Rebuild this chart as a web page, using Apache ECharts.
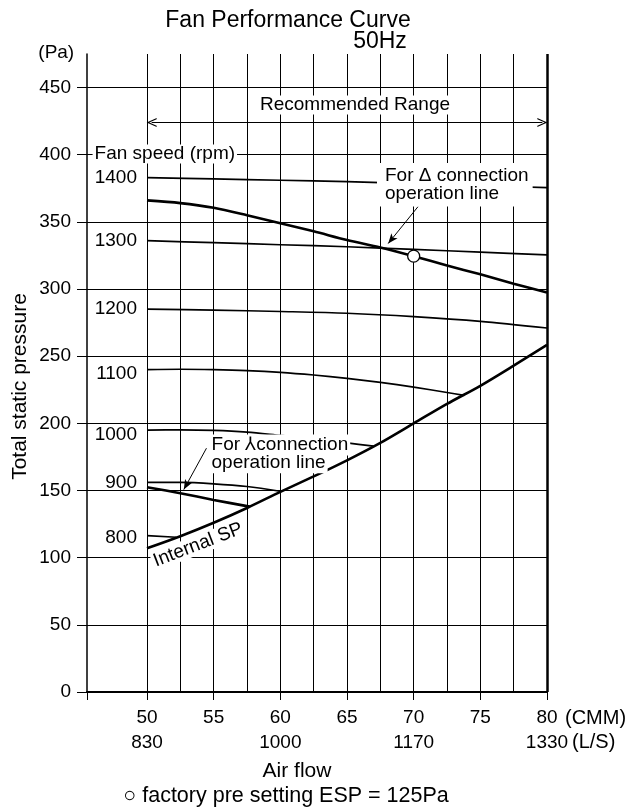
<!DOCTYPE html>
<html><head><meta charset="utf-8">
<script src="https://cdn.jsdelivr.net/npm/echarts@6/dist/echarts.min.js"></script>
<style>html,body{margin:0;padding:0;background:#fff}#c{width:637px;height:807px}</style>
</head><body><div id="c"></div>
<script>
const FONT = '"Liberation Sans", Arial, Helvetica, sans-serif';

// Axis ticks
const cmmTicks = [50, 55, 60, 65, 70, 75, 80];
const lsTicks = [50, 60, 70, 80];
const lsLabels = ['830', '1000', '1170', '1330'];
const xGrid = [50, 52.5, 55, 57.5, 60, 62.5, 65, 67.5, 70, 72.5, 75, 77.5];
const xTickMarks = [45.5, 50, 55, 60, 65, 70, 75, 80];
const pressureTicks = [0, 50, 100, 150, 200, 250, 300, 350, 400, 450];

// Fan speed curves: [air flow (CMM), total static pressure (Pa)]
const speedNames = ['1400', '1300', '1200', '1100', '1000', '900', '800'];
const speed1400 = [[50,383],[55,382],[60,381],[65,380],[70,378.5],[75,377],[80,375.5]];
const speed1300 = [[50,336],[55,334.5],[60,333],[65,331.5],[70,329.5],[75,327.5],[80,325.5]];
const speed1200 = [[50,285],[55,284.3],[60,283.3],[65,282],[70,279.5],[75,276],[80,271]];
const speed1100 = [[50,240],[52.5,240.3],[55,240],[57.5,239.3],[60,238],[62.5,236],[65,233.5],[67.5,230.5],[70,227],[72.5,223],[73.8,220.8]];
const speed1000 = [[50,195],[52.5,195.2],[55,194.8],[57.5,193.5],[60,191],[62.5,188.5],[65,185.5],[67,183]];
const speed900  = [[50,156],[52.5,156],[55,155],[57.5,153],[60.1,149.3]];
const speed800  = [[50,116.4],[52.2,115.2]];
// Operation lines and internal SP
const deltaLine = [[50,366],[52.5,364],[55,360.5],[57.5,355],[60,349],[62.5,343],[65,336.5],[67.5,331],[70,324.5],[72.5,317.5],[75,311],[77.5,304],[80,297.5]];
const starLine = [[50,152.5],[52.5,148],[55,143],[57.7,138]];
const internalSP = [[50,107],[52.5,116],[55,126],[57.5,137],[60,149],[62.5,160.5],[65,172.5],[67.5,185.5],[70,200],[72.5,214.5],[75,228],[77.5,243],[80,258.5]];
const factorySetting = [[70, 324.5]];

const speedSets = [speed1400, speed1300, speed1200, speed1100, speed1000, speed900, speed800];
const speedLabelNudge = [0, 0, 0, 4, 5, 0, 2];

function curve(data, width) {
  return { type: 'line', data: data, smooth: 0.3, symbol: 'none',
    lineStyle: { color: '#000', width: width }, z: 3, silent: true };
}

const chart = echarts.init(document.getElementById('c'), null, { renderer: 'canvas' });
const txt = { color: '#000', fontFamily: FONT, fontSize: 19 };

const chevron = 'path://M0,12 L6,0 L12,12 L10.4,12 L6,3.2 L1.6,12 Z';

const series = [];
// vertical grid lines
series.push({ type: 'line', data: [], silent: true,
  markLine: { z: 1, silent: true, symbol: 'none', animation: false, label: { show: false },
    lineStyle: { color: '#000', width: 1, type: 'solid' },
    data: xGrid.map(v => ({ xAxis: v })).concat([{ xAxis: 80, lineStyle: { width: 2.5, color: '#000', type: 'solid' } }]) } });
speedSets.forEach(d => series.push(curve(d, 1.7)));
series.push(curve(deltaLine, 2.6));
series.push(curve(starLine, 2.6));
series.push(curve(internalSP, 2.6));
// rpm labels at curve starts
series.push({ type: 'scatter', symbolSize: 0, silent: true, z: 6, itemStyle: { opacity: 1 },
  label: Object.assign({ show: true, position: 'left', distance: 10 }, txt),
  data: speedNames.map((n, i) => ({ value: speedSets[i][0], label: { formatter: n, offset: [0, speedLabelNudge[i]] } })) });
// arrows
series.push({ type: 'line', data: [], silent: true,
  markLine: { z: 5, silent: true, animation: false, label: { show: false },
    symbol: ['none', 'arrow'], symbolSize: [6, 10],
    lineStyle: { color: '#000', width: 1, type: 'solid' },
    data: [
      [{ coord: [70.33, 361.4] }, { coord: [68.09, 333.9] }],
      [{ coord: [54.46, 181.5] }, { coord: [52.76, 150.7] }]
    ] } });
// recommended range arrow
series.push({ type: 'line', data: [], silent: true,
  markLine: { z: 5, silent: true, animation: false, label: { show: false },
    symbol: [chevron, chevron], symbolSize: [9, 10],
    lineStyle: { color: '#000', width: 1, type: 'solid' },
    data: [[{ coord: [50.35, 424] }, { coord: [79.65, 424] }]] } });
// factory setting marker
series.push({ type: 'scatter', data: factorySetting, symbol: 'circle', symbolSize: 12, z: 8, silent: true,
  itemStyle: { color: '#fff', borderColor: '#000', borderWidth: 1.3, opacity: 1 } });
// text annotations
series.push({ type: 'scatter', symbolSize: 0, silent: true, z: 10, itemStyle: { opacity: 1 },
  label: Object.assign({ show: true }, txt),
  data: [
    { value: [45.92, 400.6], label: { position: 'right', distance: 0, formatter: 'Fan speed (rpm)', backgroundColor: '#fff', padding: [0, 2] } },
    { value: [65.6, 437.1], label: { position: 'inside', formatter: 'Recommended Range', backgroundColor: '#fff', padding: [0, 8] } },
    { value: [67.25, 377.7], label: { position: 'right', distance: 0, formatter: 'For Δ connection\noperation line', backgroundColor: '#fff', padding: [4, 4, 3, 8], lineHeight: 18.3 } },
    { value: [54.69, 177.3], label: { position: 'right', distance: 0, formatter: '{a|For ⅄connection}\n{a|operation line}',
      rich: { a: { backgroundColor: '#fff', padding: [1, 2], lineHeight: 17.7, fontSize: 19, fontFamily: FONT, color: '#000' } } } },
    { value: [53.83, 109.5], label: { position: 'inside', rotate: 21, formatter: 'Internal SP', backgroundColor: '#fff', padding: [0, 2] } }
  ] });

function gtext(text, x, y, size, align, extra) {
  return Object.assign({ type: 'text', x: x, y: y, silent: true,
    style: { text: text, fill: '#000', fontFamily: FONT, fontSize: size, align: align, verticalAlign: 'middle' } }, extra || {});
}

chart.setOption({
  animation: false,
  backgroundColor: '#fff',
  grid: { left: 87, right: 90, top: 54, bottom: 115, containLabel: false, outerBoundsMode: 'none' },
  xAxis: {
    type: 'value', min: 45.5, max: 80,
    axisLine: { show: true, onZero: false, lineStyle: { color: '#000', width: 2 } },
    axisTick: { show: true, customValues: xTickMarks, length: 8, lineStyle: { color: '#000', width: 1 } },
    axisLabel: { customValues: cmmTicks, margin: 14, lineHeight: 24.4, color: '#000', fontFamily: FONT, fontSize: 19,
      formatter: v => { const i = lsTicks.indexOf(v); return v + '\n' + (i >= 0 ? lsLabels[i] : ' '); } },
    splitLine: { show: false }
  },
  yAxis: {
    type: 'value', min: 0, max: 475, interval: 25,
    axisLine: { show: true, onZero: false, lineStyle: { color: '#000', width: 1.5 } },
    axisTick: { show: true, customValues: pressureTicks, length: 10, lineStyle: { color: '#000', width: 1 } },
    axisLabel: { customValues: pressureTicks, margin: 16, color: '#000', fontFamily: FONT, fontSize: 19 },
    splitLine: { show: true, lineStyle: { color: '#000', width: 1 } }
  },
  graphic: [
    gtext('Fan Performance Curve', 288, 21, 23, 'center'),
    gtext('50Hz', 380, 41.3, 23, 'center'),
    gtext('(Pa)', 38.3, 52.7, 19, 'left'),
    gtext('Total static pressure', 20, 386.5, 21, 'center', { rotation: Math.PI / 2 }),
    gtext('(CMM)', 565, 718.3, 20, 'left'),
    gtext('(L/S)', 572, 742.7, 20, 'left'),
    gtext('Air flow', 297, 771, 21, 'center'),
    gtext('○ factory pre setting ESP = 125Pa', 286, 796, 21.5, 'center')
  ],
  series: series
});
</script>
</body></html>
